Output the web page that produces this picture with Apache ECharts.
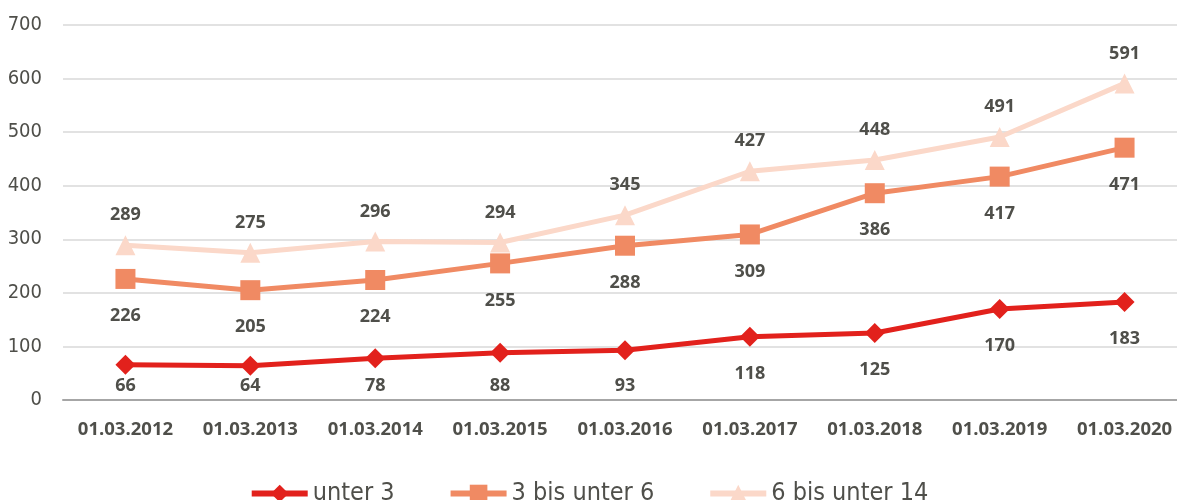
<!DOCTYPE html>
<html>
<head>
<meta charset="utf-8">
<script src="https://cdn.jsdelivr.net/npm/echarts@6/dist/echarts.min.js"></script>
<style>
  html, body { margin: 0; padding: 0; background: #fff; }
  #chart { width: 1177px; height: 500px; }
</style>
</head>
<body>
<div id="chart"></div>
<script>
const categories = ['01.03.2012', '01.03.2013', '01.03.2014', '01.03.2015', '01.03.2016',
  '01.03.2017', '01.03.2018', '01.03.2019', '01.03.2020']
const unter3 = [66, 64, 78, 88, 93, 118, 125, 170, 183]
const bis6 = [226, 205, 224, 255, 288, 309, 386, 417, 471]
const bis14 = [289, 275, 296, 294, 345, 427, 448, 491, 591]

const textColor = '#4f4f4a'
const narrow = "'DejaVu Sans Condensed', 'DejaVu Sans', sans-serif"
const labelStyle = {
  show: true,
  color: textColor,
  fontFamily: 'Open Sans',
  fontWeight: 'bold',
  fontSize: 18
}

function line(name, data, color, symbol, size, pos, dist) {
  return {
    name: name,
    type: 'line',
    data: data,
    symbol: symbol,
    symbolSize: size,
    showSymbol: true,
    lineStyle: {color: color, width: 5},
    itemStyle: {color: color},
    label: Object.assign({}, labelStyle, {position: pos, distance: dist}),
    labelLayout: function (p) {
      // keep labels above the x axis, like the original
      const r = p.labelRect
      const cy = r.y + r.height / 2
      return {x: r.x + r.width / 2, y: Math.min(cy, 386), align: 'center', verticalAlign: 'middle'}
    },
    z: 2
  }
}

const chart = echarts.init(document.getElementById('chart'))
chart.setOption({
  animation: false,
  grid: {left: 63, width: 1124, top: 25, bottom: 100, containLabel: false, outerBoundsMode: 'none'},
  legend: {
    top: 476,
    left: 'center',
    itemWidth: 56,
    itemHeight: 22,
    itemGap: 53,
    lineStyle: {width: 6},
    textStyle: {color: textColor, fontFamily: narrow, fontSize: 25},
    data: ['unter 3', '3 bis unter 6', '6 bis unter 14']
  },
  xAxis: {
    type: 'category',
    data: categories,
    boundaryGap: true,
    axisLine: {lineStyle: {color: '#a6a6a6', width: 2}},
    axisTick: {show: false},
    axisLabel: {color: textColor, fontFamily: 'Open Sans', fontWeight: 'bold', fontSize: 18.5, margin: 20}
  },
  yAxis: {
    type: 'value',
    min: 0,
    max: 700,
    interval: 100,
    axisLine: {show: false},
    axisTick: {show: false},
    splitLine: {lineStyle: {color: '#d9d9d9', width: 1.5}},
    axisLabel: {color: textColor, fontFamily: narrow, fontSize: 20, margin: 21}
  },
  series: [
    line('unter 3', unter3, '#e2211c', 'diamond', 20, 'bottom', 18),
    line('3 bis unter 6', bis6, '#f08a63', 'rect', 20, 'bottom', 18),
    line('6 bis unter 14', bis14, '#fbd8c9', 'triangle', 20, 'top', 11)
  ]
})
</script>
</body>
</html>
